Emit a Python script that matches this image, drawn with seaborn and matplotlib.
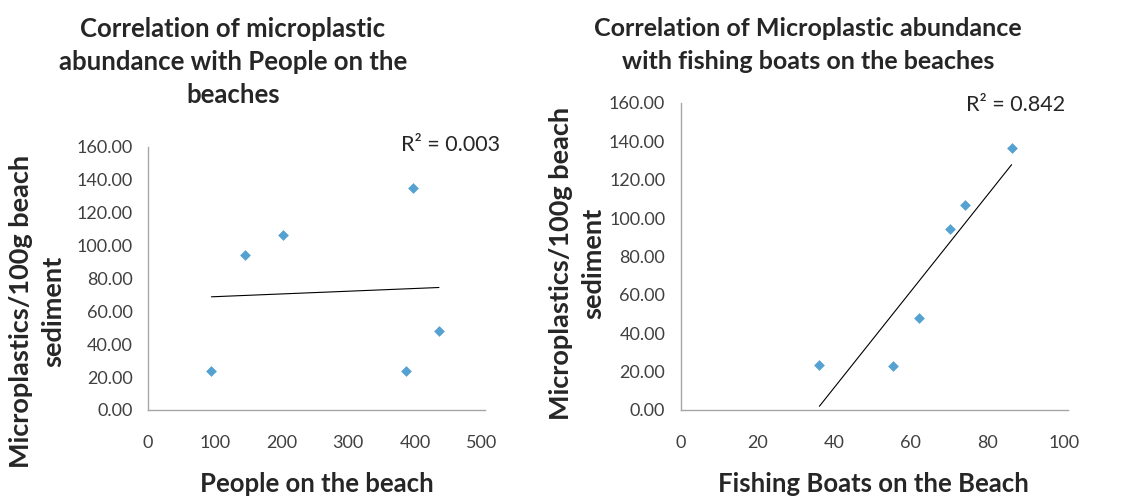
import pandas as pd
import matplotlib.pyplot as plt
import seaborn as sns

# values
people_on_beach = [95, 145, 203, 397, 386, 436]
mp_people = [23.7, 94.3, 106.5, 135.3, 23.5, 48.0]

boats_on_beach = [36.2, 55.3, 62.1, 70.2, 74.2, 86.3]
mp_boats = [23.4, 22.9, 48.0, 94.4, 106.6, 136.3]

y_ticks = [0, 20, 40, 60, 80, 100, 120, 140, 160]
x_ticks_people = [0, 100, 200, 300, 400, 500]
x_ticks_boats = [0, 20, 40, 60, 80, 100]

df_people = pd.DataFrame({'people': people_on_beach, 'mp': mp_people})
df_boats = pd.DataFrame({'boats': boats_on_beach, 'mp': mp_boats})

sns.set_style("white")
plt.rcParams['font.family'] = ['Lato', 'DejaVu Sans']

W, H = 1146, 497
fig = plt.figure(figsize=(W / 100, H / 100), dpi=100)

def px_axes(x0, y0, x1, y1):
    return fig.add_axes([x0 / W, 1 - y1 / H, (x1 - x0) / W, (y1 - y0) / H])

ax1 = px_axes(148, 147, 485, 410)
ax2 = px_axes(680.5, 103, 1068, 410)

pt_color = "#2A8AC6"

def style_panel(ax, df, xcol, xticks, xlim):
    sns.regplot(data=df, x=xcol, y='mp', ax=ax, ci=None, marker='D',
                scatter_kws={'s': 30, 'color': pt_color, 'linewidths': 0},
                line_kws={'color': 'black', 'linewidth': 0.8})
    ax.set_xlim(*xlim)
    ax.set_ylim(0, 160)
    ax.set_xticks(xticks)
    ax.set_yticks(y_ticks)
    ax.set_yticklabels([f"{v:.2f}" for v in y_ticks])
    ax.set_xlabel('')
    ax.set_ylabel('')
    for s in ['top', 'right']:
        ax.spines[s].set_visible(False)
    for s in ['left', 'bottom']:
        ax.spines[s].set_color('#A6A6A6')
        ax.spines[s].set_linewidth(1.0)
    ax.tick_params(axis='both', length=0, labelsize=13, colors='#404040')
    ax.tick_params(axis='y', pad=11)
    ax.tick_params(axis='x', pad=18)

style_panel(ax1, df_people, 'people', x_ticks_people, (0, 505))
style_panel(ax2, df_boats, 'boats', x_ticks_boats, (0, 101))

# titles
fig.text(233 / W, 1 - 62 / H,
         "Correlation of microplastic\nabundance with People on the\nbeaches",
         ha='center', va='center', fontsize=18.5, fontweight='bold',
         linespacing=1.45)
fig.text(808 / W, 1 - 45 / H,
         "Correlation of Microplastic abundance\nwith fishing boats on the beaches",
         ha='center', va='center', fontsize=18, fontweight='bold',
         linespacing=1.5)

# y labels
fig.text(37 / W, 1 - 311 / H, "Microplastics/100g beach\nsediment",
         ha='center', va='center', rotation=90, fontsize=19.5,
         fontweight='bold', linespacing=1.38)
fig.text(577 / W, 1 - 263 / H, "Microplastics/100g beach\nsediment",
         ha='center', va='center', rotation=90, fontsize=19.5,
         fontweight='bold', linespacing=1.38)

# x labels
fig.text(317 / W, 1 - 484 / H, "People on the beach", ha='center',
         va='center', fontsize=18.5, fontweight='bold')
fig.text(873 / W, 1 - 484 / H, "Fishing Boats on the Beach", ha='center',
         va='center', fontsize=18.5, fontweight='bold')

# R² annotations
fig.text(500 / W, 1 - 145 / H, "R² = 0.003", ha='right', va='center',
         fontsize=15.5)
fig.text(1065 / W, 1 - 105 / H, "R² = 0.842", ha='right', va='center',
         fontsize=15.5)

plt.savefig("out.png", dpi=100)
plt.close()
